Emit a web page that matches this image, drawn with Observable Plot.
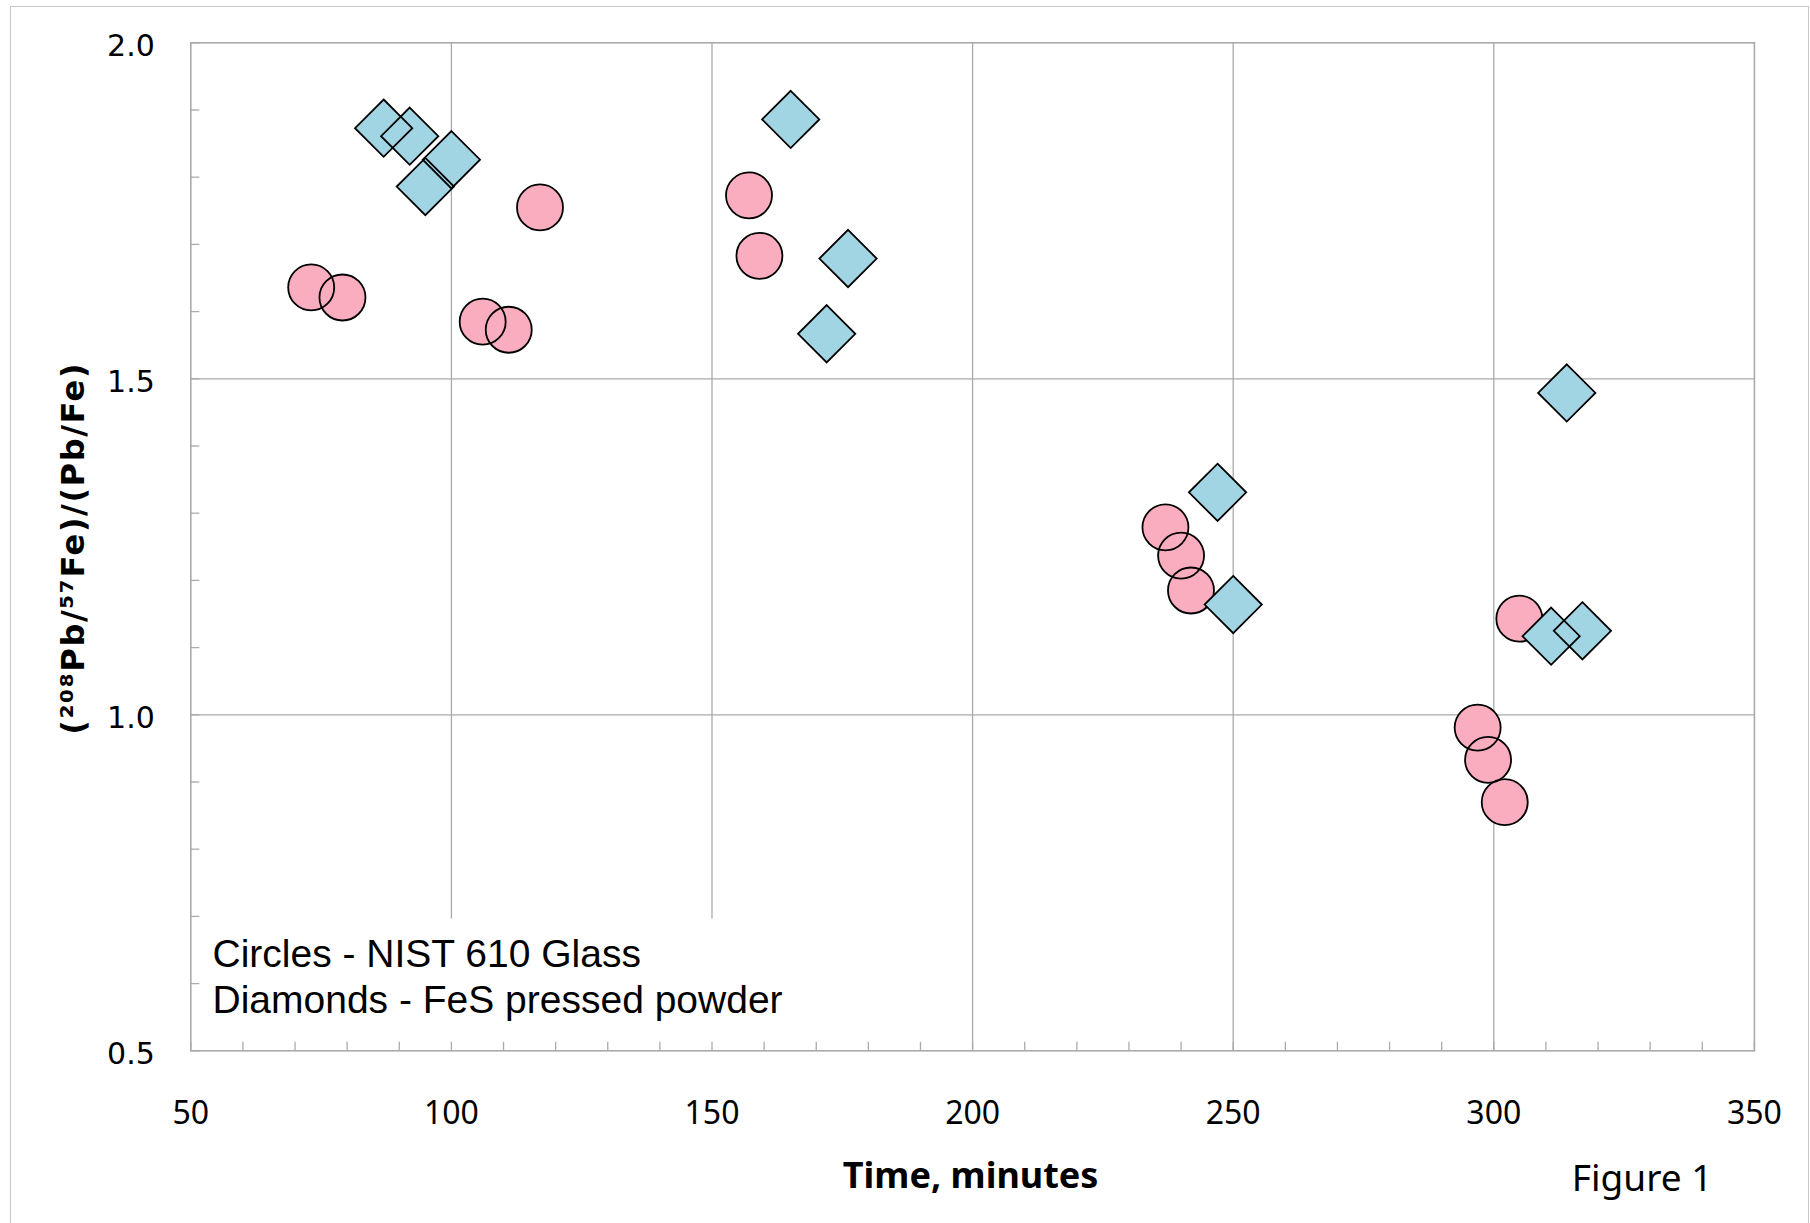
<!DOCTYPE html>
<html>
<head>
<meta charset="utf-8">
<script src="https://cdn.jsdelivr.net/npm/d3@7"></script>
<script src="https://cdn.jsdelivr.net/npm/@observablehq/plot@0.6"></script>
<style>
  html, body { margin: 0; padding: 0; background: #fff; overflow: hidden; }
  #wrap { position: relative; width: 1810px; height: 1223px; }
  #border { position: absolute; left: 10px; top: 6px; width: 1797px; height: 1260px;
            border: 1.5px solid #c8c8c8; border-bottom: none; pointer-events: none; }
</style>
</head>
<body>
<div id="wrap"><div id="border"></div></div>
<script>
// ---- data ----
const circleTime  = [73.1, 79.1, 106.0, 111.0, 117.0, 157.1, 159.1, 237.0, 240.0, 241.9, 296.9, 298.9, 302.1, 304.9];
const circleRatio = [1.636, 1.621, 1.585, 1.573, 1.755, 1.773, 1.683, 1.279, 1.237, 1.185, 0.981, 0.933, 0.870, 1.143];
const diamondTime  = [87.0, 92.0, 100.0, 95.0, 165.1, 176.1, 172.0, 247.0, 250.0, 314.0, 311.0, 317.0];
const diamondRatio = [1.873, 1.861, 1.826, 1.786, 1.886, 1.679, 1.567, 1.331, 1.164, 1.479, 1.117, 1.125];

const xTicks = [50, 100, 150, 200, 250, 300, 350];
const yTicks = [0.5, 1.0, 1.5, 2.0];
const xMinorStep = 10;
const yMinorStep = 0.1;

const xTitle = "Time, minutes";
const yTitle = "(\u00B2\u2070\u2078Pb/\u2075\u2077Fe)/(Pb/Fe)";
const figLabel = "Figure 1";
const legendLines = ["Circles - NIST 610 Glass", "Diamonds - FeS pressed powder"];

// ---- layout ----
const W = 1810, H = 1223;
const mL = 190.3, mR = 56.1, mT = 42.3, mB = 172.7;
const plotW = W - mL - mR, plotH = H - mT - mB;
const grid = "#aaaaaa";
const pink = "#faadbf", blue = "#a2d5e3";

const circles = circleTime.map((t, i) => ({t, v: circleRatio[i]}));
const diamonds = diamondTime.map((t, i) => ({t, v: diamondRatio[i]}));
const xMinor = d3.range(xTicks[0], xTicks[xTicks.length - 1] + 1, xMinorStep);
const yMinor = d3.range(Math.round(yTicks[0] / yMinorStep), Math.round(yTicks[yTicks.length - 1] / yMinorStep) + 1).map(k => +(k * yMinorStep).toFixed(2));

const chart = Plot.plot({
  width: W, height: H,
  marginLeft: mL, marginRight: mR, marginTop: mT, marginBottom: mB,
  style: {background: "white", fontFamily: "Noto Sans", color: "black"},
  x: {domain: [xTicks[0], xTicks[xTicks.length - 1]], axis: null},
  y: {domain: [yTicks[0], yTicks[yTicks.length - 1]], axis: null},
  marks: [
    // grid
    Plot.ruleX(xTicks.slice(1, -1), {stroke: grid, strokeWidth: 1.3}),
    Plot.ruleY(yTicks.slice(1, -1), {stroke: grid, strokeWidth: 1.3}),
    // white legend box
    Plot.frame({fill: "white", stroke: null, insetTop: 875.7, insetRight: 953.9, insetBottom: 1, insetLeft: 1}),
    // minor inner ticks
    Plot.tickX(xMinor, {x: d => d, stroke: grid, strokeWidth: 1.3, insetTop: plotH - 8.5}),
    Plot.tickY(yMinor, {y: d => d, stroke: grid, strokeWidth: 1.3, insetRight: plotW - 9}),
    Plot.frame({stroke: grid, strokeWidth: 1.6}),
    // axes labels
    Plot.axisX(xTicks, {tickSize: 0, tickPadding: 50, fontSize: 32, fontFamily: "Noto Sans", tickFormat: d => String(d), color: "black", label: null}),
    Plot.axisY(yTicks, {tickSize: 0, tickPadding: 36, fontSize: 30, fontFamily: "DejaVu Sans", tickFormat: d => d.toFixed(1), dy: 4, color: "black", label: null}),
    // circles: fills then outlines
    Plot.dot(circles, {x: "t", y: "v", r: 23, fill: pink, stroke: "none"}),
    Plot.dot(circles, {x: "t", y: "v", r: 23, fill: "none", stroke: "black", strokeWidth: 1.8}),
    // diamonds
    Plot.dot(diamonds, {x: "t", y: "v", symbol: "diamond2", r: 25.8, fill: blue, stroke: "none"}),
    Plot.dot(diamonds, {x: "t", y: "v", symbol: "diamond2", r: 25.8, fill: "none", stroke: "black", strokeWidth: 1.8}),
    // legend text
    Plot.text([legendLines.join("\n")], {frameAnchor: "bottom-left", textAnchor: "start", lineAnchor: "bottom",
      lineHeight: 46 / 39, dx: 21.7, dy: -37.6, fontSize: 39, fontFamily: "Liberation Sans", fill: "black"}),
    // titles
    Plot.text([xTitle], {frameAnchor: "bottom", lineAnchor: "bottom", dx: -2, dy: 136.7,
      fontSize: 36, fontWeight: "bold", fontFamily: "Noto Sans", fill: "black"}),
    Plot.text([figLabel], {frameAnchor: "bottom-right", textAnchor: "end", lineAnchor: "bottom", dx: -42, dy: 140.4,
      fontSize: 37, fontFamily: "Noto Sans", fill: "black"}),
    Plot.text([yTitle], {frameAnchor: "left", textAnchor: "middle", rotate: -90, dx: -117, dy: 1.5,
      fontSize: 32, fontWeight: "bold", fontFamily: "DejaVu Sans", fill: "black", ariaDescription: "ytitle"})
  ]
});

d3.select(chart).selectAll('g[aria-description="ytitle"] text').style("letter-spacing", "1.6px");
document.getElementById("wrap").prepend(chart);
</script>
</body>
</html>
